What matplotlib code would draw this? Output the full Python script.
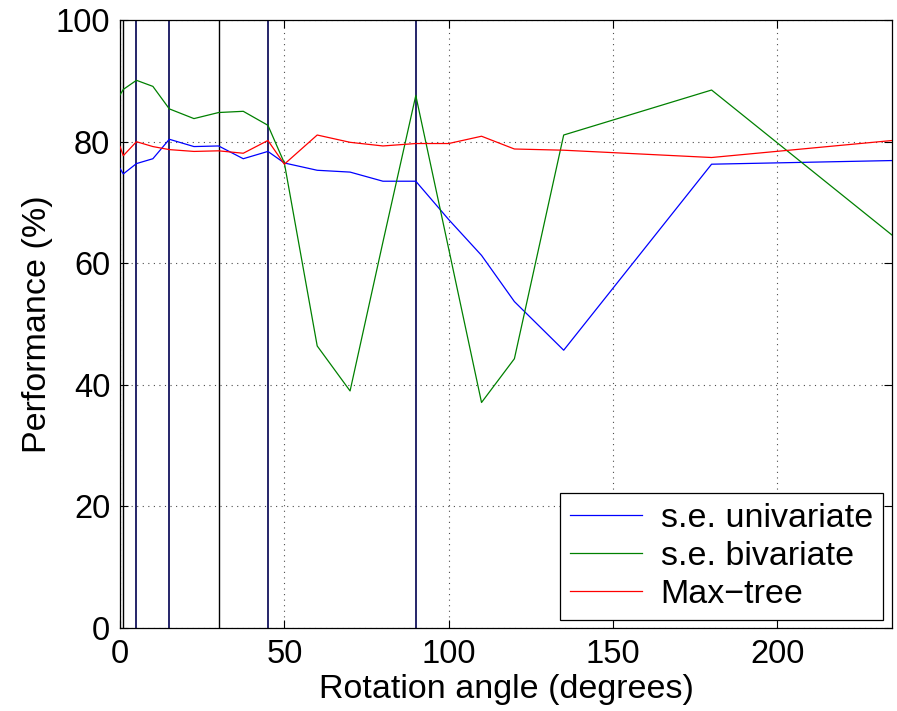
import matplotlib
matplotlib.use("Agg")
import matplotlib.pyplot as plt

plt.rcParams['font.family'] = ['Liberation Sans', 'DejaVu Sans']

angles = [0, 1, 5, 10, 15, 22.5, 30, 37.5, 45, 50, 60, 70, 80, 90, 100, 110, 120, 135, 180, 235]
univariate = [75.6, 74.7, 76.4, 77.2, 80.4, 79.2, 79.3, 77.2, 78.4, 76.5, 75.3, 75.0, 73.5, 73.5, 67.2, 61.3, 53.7, 45.7, 76.3, 76.9]
bivariate = [87.7, 88.6, 90.1, 89.1, 85.4, 83.8, 84.8, 85.0, 82.7, 76.5, 46.4, 39.0, 63.5, 87.6, 62.4, 37.1, 44.3, 81.1, 88.5, 64.6]
maxtree = [79.2, 77.7, 80.0, 79.2, 78.7, 78.4, 78.5, 78.1, 80.2, 76.3, 81.1, 79.9, 79.3, 79.7, 79.7, 80.9, 78.8, 78.6, 77.4, 80.2]
labels = ["s.e. univariate", "s.e. bivariate", "Max\u2212tree"]

vlines_black = [1, 30]
vlines_navy = [5, 15, 45, 90]

fig = plt.figure(figsize=(8.97, 7.11), dpi=100)
ax = fig.add_axes([0.1338, 0.1167, 0.861, 0.855])

for v in vlines_black:
    ax.axvline(v, color='black', lw=1.0, zorder=1)
for v in vlines_navy:
    ax.axvline(v, color='#000050', lw=1.2, zorder=1)

ax.plot(angles, univariate, color=(0, 0, 1), lw=0.9, label=labels[0], zorder=3)
ax.plot(angles, bivariate, color=(0, 0.5, 0), lw=0.9, label=labels[1], zorder=3)
ax.plot(angles, maxtree, color=(1, 0, 0), lw=0.9, label=labels[2], zorder=3)

ax.set_xlim(0, 235)
ax.set_ylim(0, 100)
ax.set_xticks([0, 50, 100, 150, 200])
ax.set_yticks([0, 20, 40, 60, 80, 100])
ax.grid(True, linestyle=(0, (1, 4)), color='black', lw=0.8, alpha=0.7)
ax.set_axisbelow(True)
ax.tick_params(direction='in', top=True, right=True, labelsize=23.5, length=6, width=0.8)
ax.tick_params(axis='x', pad=8)
ax.tick_params(axis='y', pad=7)
for s in ax.spines.values():
    s.set_linewidth(0.9)

ax.set_xlabel("Rotation angle (degrees)", fontsize=24.5, labelpad=3)
ax.set_ylabel("Performance (%)", fontsize=24.5, labelpad=2)

leg = ax.legend(loc='lower right', fontsize=24.5, frameon=True, fancybox=False,
                edgecolor='black', framealpha=1, handlelength=2.1,
                labelspacing=0.2, borderpad=0.3, handletextpad=0.55,
                borderaxespad=0.0, bbox_to_anchor=(0.988, 0.013))
leg.get_frame().set_linewidth(0.9)

fig.savefig("out.png", dpi=100)
